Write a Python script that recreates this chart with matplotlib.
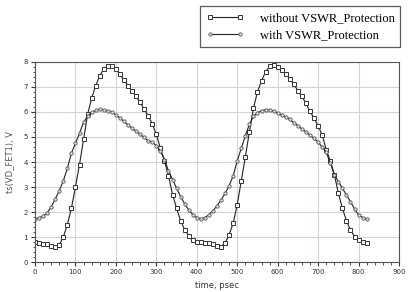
import matplotlib
matplotlib.use('Agg')
import matplotlib.pyplot as plt
from matplotlib.ticker import MultipleLocator

time_ps = list(range(0, 830, 10))

without_prot = [
    0.79, 0.77, 0.74, 0.71, 0.66, 0.60, 0.68, 1.00, 1.50, 2.15,
    3.00, 3.90, 4.90, 5.90, 6.55, 7.05, 7.45, 7.72, 7.85, 7.85,
    7.72, 7.50, 7.28, 7.05, 6.84, 6.62, 6.38, 6.10, 5.85, 5.52,
    5.10, 4.55, 4.05, 3.45, 2.70, 2.15, 1.65, 1.30, 1.05, 0.90,
    0.82, 0.79, 0.78, 0.75, 0.71, 0.66, 0.62, 0.76, 1.10, 1.55,
    2.30, 3.25, 4.20, 5.20, 6.15, 6.80, 7.25, 7.60, 7.82, 7.88,
    7.80, 7.66, 7.52, 7.32, 7.10, 6.85, 6.62, 6.34, 6.02, 5.75,
    5.45, 5.08, 4.50, 4.05, 3.50, 2.75, 2.15, 1.65, 1.28, 1.02,
    0.88, 0.82, 0.78,
]

with_prot = [
    1.73, 1.77, 1.84, 1.97, 2.20, 2.52, 2.85, 3.25, 3.75, 4.35,
    4.75, 5.15, 5.58, 5.85, 5.98, 6.06, 6.10, 6.09, 6.05, 5.99,
    5.89, 5.76, 5.62, 5.48, 5.35, 5.22, 5.10, 4.98, 4.85, 4.80,
    4.65, 4.45, 4.10, 3.65, 3.30, 2.95, 2.62, 2.33, 2.08, 1.90,
    1.78, 1.73, 1.78, 1.89, 2.05, 2.25, 2.48, 2.75, 3.05, 3.45,
    4.05, 4.55, 5.05, 5.50, 5.82, 5.97, 6.05, 6.09, 6.08, 6.03,
    5.96, 5.88, 5.80, 5.70, 5.57, 5.45, 5.32, 5.20, 5.07, 4.94,
    4.79, 4.60, 4.40, 3.95, 3.50, 3.22, 2.95, 2.68, 2.42, 2.12,
    1.88, 1.78, 1.72,
]

x_ticks = [0, 100, 200, 300, 400, 500, 600, 700, 800, 900]
y_ticks = [0, 1, 2, 3, 4, 5, 6, 7, 8]

fig = plt.figure(figsize=(4.09, 2.92), dpi=100)
ax = fig.add_axes([0.0856, 0.1027, 0.89, 0.685])

l1, = ax.plot(time_ps, without_prot, color='#222222', lw=0.8,
              marker='s', ms=3.0, mfc='white', mec='#333333', mew=0.7)
l2, = ax.plot(time_ps, with_prot, color='#222222', lw=0.8,
              marker='o', ms=2.4, mfc='#dddddd', mec='#555555', mew=0.6)

ax.set_xlim(0, 900)
ax.set_ylim(0, 8)
ax.set_xticks(x_ticks)
ax.set_yticks(y_ticks)
ax.xaxis.set_minor_locator(MultipleLocator(20))
ax.yaxis.set_minor_locator(MultipleLocator(0.2))
ax.tick_params(which='major', direction='out', length=3, width=0.8,
               labelsize=5, colors='#333333', pad=2)
ax.tick_params(which='minor', direction='out', length=1.8, width=0.6,
               colors='#333333')
ax.tick_params(top=False, right=False)
ax.grid(True, which='major', color='#cdd5d5', lw=0.8)
ax.set_axisbelow(True)
for s in ax.spines.values():
    s.set_color('#555555')
    s.set_linewidth(0.8)

ax.set_xlabel('time, psec', fontsize=6, color='#333333', labelpad=4)
ax.set_ylabel('ts(VD_FET1), V', fontsize=6, color='#555555', labelpad=7)

leg = fig.legend([l1, l2], ['without VSWR_Protection', 'with VSWR_Protection'],
                 loc='upper right', bbox_to_anchor=(0.978, 0.978),
                 prop={'family': 'Liberation Serif', 'size': 9},
                 frameon=True, fancybox=False, edgecolor='#333333',
                 handlelength=3.0, numpoints=2, borderpad=0.45,
                 labelspacing=0.45, handletextpad=1.3, borderaxespad=0)
leg.get_frame().set_linewidth(0.9)

fig.savefig('out.png', dpi=100)
